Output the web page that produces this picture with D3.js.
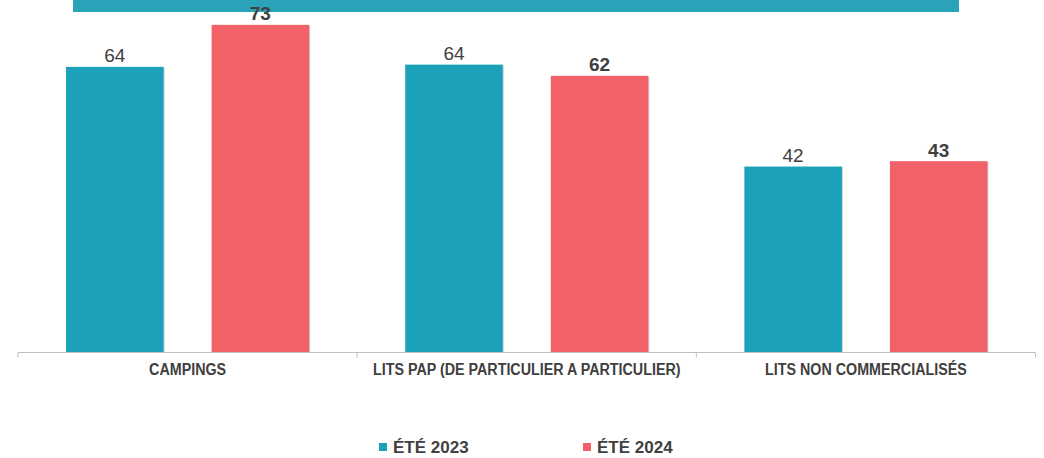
<!DOCTYPE html>
<html>
<head>
<meta charset="utf-8">
<script src="https://cdn.jsdelivr.net/npm/d3@7"></script>
<style>
  body { margin: 0; background: #fff; }
  text { font-family: "Liberation Sans", Arial, sans-serif; fill: #404040; }
</style>
</head>
<body>
<div id="chart"></div>
<script>
// data
let categories = ["CAMPINGS", "LITS PAP (DE PARTICULIER A PARTICULIER)", "LITS NON COMMERCIALISÉS"];
let seriesNames = ["ÉTÉ 2023", "ÉTÉ 2024"];
let values2023 = [63.9, 64.4, 41.6];
let values2024 = [73.3, 61.9, 42.8];
let seriesColors = ["#1ba1b9", "#f26168"];

let svgWidth = 1044;
let svgHeight = 458;

let svg = d3.select("#chart")
  .append("svg")
  .attr("width", svgWidth)
  .attr("height", svgHeight);

// table for drawing
let rows = categories.map((c, i) => ({
  cat: c,
  vals: [
    {key: seriesNames[0], value: values2023[i], idx: 0},
    {key: seriesNames[1], value: values2024[i], idx: 1}
  ]
}));

// banner at top (title box cut off)
svg.append("rect")
  .attr("x", 73)
  .attr("y", 0)
  .attr("width", 886)
  .attr("height", 12)
  .attr("fill", "#2aa3b9");

let baseY = 352.5;

let x0 = d3.scaleBand()
  .domain(categories)
  .range([18, 1035.5])
  .padding(0);

let x1 = d3.scaleBand()
  .domain(seriesNames)
  .range([0, x0.bandwidth()])
  .paddingInner(0.33)
  .paddingOuter(0.33);

let y = d3.scaleLinear()
  .domain([0, 80])
  .range([baseY, baseY - 4.47 * 80]);

let groups = svg.append("g")
  .selectAll("g")
  .data(rows)
  .enter()
  .append("g")
  .attr("transform", d => `translate(${x0(d.cat)},0)`);

// soft shadow on the right edge of the bars
groups.selectAll("rect.shadow")
  .data(d => d.vals)
  .enter()
  .append("rect")
  .attr("class", "shadow")
  .attr("x", d => x1(d.key) + 1)
  .attr("y", d => y(d.value) + 1)
  .attr("width", x1.bandwidth())
  .attr("height", d => baseY - y(d.value) - 1)
  .attr("fill", "#cfcfcf");

groups.selectAll("rect.bar")
  .data(d => d.vals)
  .enter()
  .append("rect")
  .attr("class", "bar")
  .attr("x", d => x1(d.key))
  .attr("y", d => y(d.value))
  .attr("width", x1.bandwidth())
  .attr("height", d => baseY - y(d.value))
  .attr("fill", d => seriesColors[d.idx]);

// value labels (2024 in bold)
groups.selectAll("text.val")
  .data(d => d.vals)
  .enter()
  .append("text")
  .attr("class", "val")
  .attr("x", d => x1(d.key) + x1.bandwidth() / 2)
  .attr("y", d => y(d.value) - 4.5)
  .attr("text-anchor", "middle")
  .attr("font-size", 19)
  .attr("font-weight", d => d.idx === 1 ? "bold" : "normal")
  .text(d => Math.round(d.value));

// x axis
let xAxis = svg.append("g");
xAxis.append("line")
  .attr("x1", x0.range()[0])
  .attr("x2", x0.range()[1])
  .attr("y1", baseY)
  .attr("y2", baseY)
  .attr("stroke", "#bfbfbf")
  .attr("stroke-width", 1);

let tickXs = categories.map(c => x0(c)).concat([x0.range()[1]]);
xAxis.selectAll("line.tick")
  .data(tickXs)
  .enter()
  .append("line")
  .attr("class", "tick")
  .attr("x1", d => d)
  .attr("x2", d => d)
  .attr("y1", baseY)
  .attr("y2", baseY + 5)
  .attr("stroke", "#bfbfbf");

// category labels, slightly taller than plain Arial in the reference
xAxis.selectAll("text")
  .data(categories)
  .enter()
  .append("text")
  .attr("transform", d => `translate(${x0(d) + x0.bandwidth() / 2},375) scale(1,1.12)`)
  .attr("text-anchor", "middle")
  .attr("font-size", 14.3)
  .attr("font-weight", "bold")
  .text(d => d);

// legend
let legendX = [379, 583];
let legend = svg.append("g")
  .selectAll("g")
  .data(seriesNames)
  .enter()
  .append("g")
  .attr("transform", (d, i) => `translate(${legendX[i]},0)`);

legend.append("rect")
  .attr("x", 0)
  .attr("y", 443)
  .attr("width", 8)
  .attr("height", 8)
  .attr("fill", (d, i) => seriesColors[i]);

legend.append("text")
  .attr("x", 14)
  .attr("y", 453)
  .attr("font-size", 17)
  .attr("font-weight", "bold")
  .text(d => d);
</script>
</body>
</html>
